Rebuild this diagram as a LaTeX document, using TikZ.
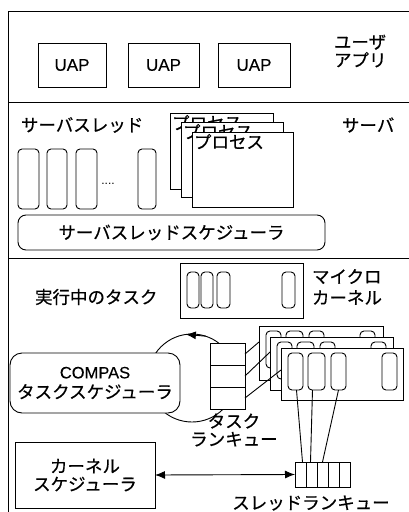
\documentclass[tikz,border=0pt]{standalone}
\usepackage{fontspec}
\setmainfont{Liberation Sans}
\newfontfamily\lat{Liberation Sans}[FakeBold=0.2]
\newfontfamily\jp{Noto Sans CJK JP}[FakeBold=0.5]
\usetikzlibrary{arrows.meta,calc}
\begin{document}
\begin{tikzpicture}[x=1pt,y=-1pt,
  every node/.style={inner sep=0pt, outer sep=0pt},
  bx/.style={draw, fill=white, line width=0.9pt, anchor=north west},
  rbx/.style={bx, rounded corners=4pt},
  jtxt/.style={font=\jp\fontsize{17.5}{18}\selectfont},
  ltxt/.style={font=\lat\fontsize{17}{18}\selectfont},
  ln/.style={line width=0.9pt},
  tip/.style={-{Latex[length=10pt,width=8pt]}}]
\useasboundingbox (0,0) rectangle (409,512);
% frame
\draw[line width=1pt] (409,11) -- (8,11) -- (8,512);
\draw[line width=1pt] (8,102) -- (409,102);
\draw[line width=1pt] (8,258) -- (409,258);

% ---- user application layer
\node[bx, ltxt, minimum width=68pt, minimum height=44pt] (u1) at (38,43) {UAP};
\node[bx, ltxt, minimum width=71pt, minimum height=44pt] (u2) at (128,43) {UAP};
\node[bx, ltxt, minimum width=72pt, minimum height=44pt] (u3) at (218,43) {UAP};
\node[jtxt, align=left, anchor=west] (ual) at (334,51) {ユーザ\\アプリ};

% ---- server layer
\node[jtxt, anchor=west] (stl) at (21,125) {サーバスレッド};
\node[rbx, minimum width=21pt, minimum height=60pt] (t1) at (18,149) {};
\node[rbx, minimum width=20pt, minimum height=60pt] (t2) at (47,149) {};
\node[rbx, minimum width=21pt, minimum height=60pt] (t3) at (76,149) {};
\node[rbx, minimum width=18pt, minimum height=60pt] (t4) at (138,149) {};
\node[font=\fontsize{12}{12}\selectfont] (dots) at (108,184) {....};
\node[bx, minimum width=103pt, minimum height=76pt] (p1) at (170,113) {};
\node[jtxt, anchor=north west, inner sep=2pt] (p1l) at (p1.north west) {プロセス};
\node[bx, minimum width=102pt, minimum height=75pt] (p2) at (181,122) {};
\node[jtxt, anchor=north west, inner sep=2pt] (p2l) at (p2.north west) {プロセス};
\node[bx, minimum width=101pt, minimum height=75pt] (p3) at (192,132) {};
\node[jtxt, anchor=north west, inner sep=2pt] (p3l) at (p3.north west) {プロセス};
\node[jtxt, anchor=west] (svl) at (342,125) {サーバ};
\node[bx, jtxt, rounded corners=8pt, minimum width=307pt, minimum height=35pt] (sts) at (18,215) {サーバスレッドスケジューラ};

% ---- micro kernel layer
\node[jtxt, anchor=west] (rtl) at (35,297) {実行中のタスク};
\node[bx, minimum width=123pt, minimum height=55pt] (mk) at (180,263) {};
\node[rbx, minimum width=12pt, minimum height=36pt] (m1) at (187,272) {};
\node[rbx, minimum width=12pt, minimum height=36pt] (m2) at (201,272) {};
\node[rbx, minimum width=13pt, minimum height=36pt] (m3) at (217,272) {};
\node[rbx, minimum width=13pt, minimum height=36pt] (m4) at (282,272) {};
\node[jtxt, align=left, anchor=west] (mkl) at (312,287) {マイクロ\\[3pt]カーネル};

% cycle around task run queue
\node[draw, circle, minimum size=88pt, line width=0.9pt] (cyc) at (192,378) {};
\draw[ln, tip] (cyc.72) -- (cyc.98);
\node[bx, rounded corners=12pt, minimum width=170pt, minimum height=60pt, align=center,
      font=\jp\fontsize{17.5}{19}\selectfont] (cts) at (10,353)
  {{\lat\fontsize{16.5}{19}\selectfont COMPAS}\\[1pt]タスクスケジューラ};
\node[bx, minimum width=35pt, minimum height=22pt] (q1) at (210,343) {};
\node[bx, minimum width=35pt, minimum height=22pt] (q2) at (210,365) {};
\node[bx, minimum width=35pt, minimum height=22pt] (q3) at (210,387) {};
\node[jtxt, align=center] (tql) at (234,430) {タスク\\ランキュー};

% task boxes
\foreach \n/\x/\y/\w/\h in {b1/259/326/124/54, b2/270/337/123/53, b3/281/348/122/52}{
  \node[bx, minimum width=\w pt, minimum height=\h pt] (\n) at (\x,\y) {};
  \node[rbx, minimum width=15pt, minimum height=37pt] (\n f1) at ($(\n.north west)+(7,5)$) {};
  \node[rbx, minimum width=17pt, minimum height=37pt] (\n f2) at ($(\n.north west)+(27,5)$) {};
  \node[rbx, minimum width=15pt, minimum height=37pt] (\n f3) at ($(\n.north west)+(50,5)$) {};
  \node[rbx, minimum width=15pt, minimum height=37pt] (\n f4) at ($(\n.north west)+(101,5)$) {};
}
\draw[ln] (q1.east) -- ($(b1.north west)+(0,16)$);
\draw[ln] (q2.east) -- ($(b2.north west)+(0,15)$);
\draw[ln] (q3.east) -- ($(b3.north west)+(0,22)$);

% thread run queue
\foreach \i in {1,...,5}{
  \node[bx, minimum width=11pt, minimum height=25pt] (r\i) at ({295+11*(\i-1)},462) {};
}
\draw[ln] ($(b3f1.south)+(1,0)$) -- ($(r1.north)+(2,0)$);
\draw[ln] ($(b3f2.south)+(-4,0)$) -- ($(r2.north)+(-1,0)$);
\draw[ln] (b3f3.south) -- ($(r3.north)+(0,0)$);
\node[jtxt] (trl) at (311,503) {スレッドランキュー};

% kernel scheduler
\node[bx, jtxt, align=center, minimum width=140pt, minimum height=66pt] (ks) at (15,442) {カーネル\\スケジューラ};
\draw[ln, {Latex[length=10pt,width=8pt]}-{Latex[length=10pt,width=8pt]}] (ks.east) -- (r1.west);
\end{tikzpicture}
\end{document}
